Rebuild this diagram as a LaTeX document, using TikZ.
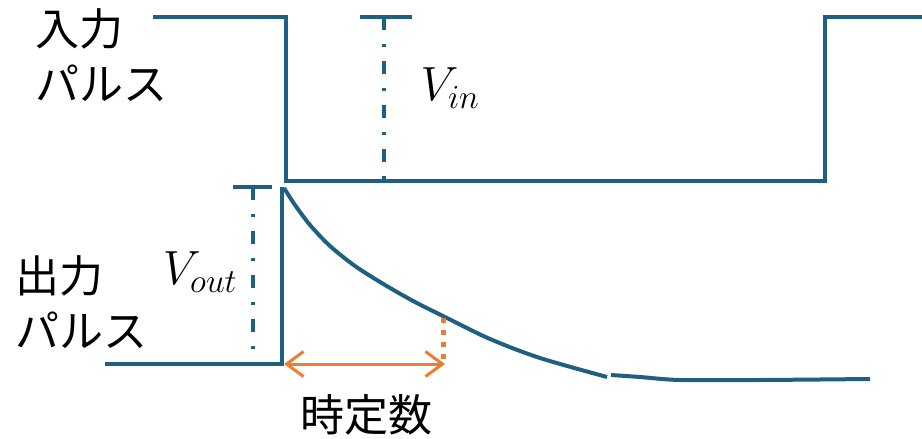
\RequirePackage{fix-cm}
\documentclass[tikz,border=0pt]{standalone}
\usepackage{fontspec}
\newfontfamily\jpfont{Noto Sans CJK JP}
\usepackage{xcolor}
\usetikzlibrary{arrows.meta}
\definecolor{pulseblue}{RGB}{31,96,130}
\definecolor{tauorange}{RGB}{237,125,49}

\begin{document}
\begin{tikzpicture}[x=1pt,y=-1pt,
  wave/.style={pulseblue,line width=4pt},
  level/.style={pulseblue,line width=3.5pt},
  dashdot/.style={pulseblue,line width=3.5pt,dash pattern=on 13pt off 14pt on 3pt off 14pt},
  jp/.style={font=\jpfont\fontsize{44}{55}\selectfont,align=left,inner sep=0pt},
  volt/.style={font=\fontsize{48}{56}\selectfont,inner sep=0pt}]
  \useasboundingbox (0,0) rectangle (922,439);

  % input pulse
  \draw[wave] (153,17) -- (286,17) -- (286,181) -- (825,181) -- (825,17) -- (922,17);
  \coordinate (intop) at (384,17);
  \coordinate (inbot) at (384,181);
  \draw[level] (360,17) -- (412,17);
  \draw[dashdot] (intop) -- (inbot);
  \node[volt] (vin) at (450,88) {$V_{in}$};
  \node[jp,anchor=west] (inlabel) at (35,55) {入力\\パルス};

  % output pulse
  \draw[wave] (105,364) -- (282,364) -- (282,187);
  \draw[wave] plot[smooth] coordinates {(284,188) (295,205) (310,225) (330,246) (355,266)
    (385,285) (415,302) (445,317) (490,339) (540,358) (607,377)};
  \draw[wave] plot[smooth] coordinates {(611,375) (640,377) (680,380) (760,380) (870,379)};
  \coordinate (outtop) at (253,187);
  \coordinate (outbot) at (253,364);
  \draw[level] (233,187) -- (272,187);
  \draw[dashdot] (outtop) -- (outbot);
  \node[volt] (vout) at (200,272) {$V_{out}$};
  \node[jp,anchor=west] (outlabel) at (15,302) {出力\\パルス};

  % time constant
  \coordinate (tau0) at (284,364);
  \coordinate (tau1) at (445,364);
  \coordinate (taucurve) at (443,318);
  \coordinate (taufoot) at (443,362);
  \draw[tauorange,line width=3pt,
    {Straight Barb[length=17pt,width=25pt]}-{Straight Barb[length=17pt,width=25pt]}] (tau0) -- (tau1);
  \draw[tauorange,line width=5pt,dash pattern=on 5pt off 7pt] (taucurve) -- (taufoot);
  \node[jp] (tau) at (366,415) {時定数};
\end{tikzpicture}
\end{document}
